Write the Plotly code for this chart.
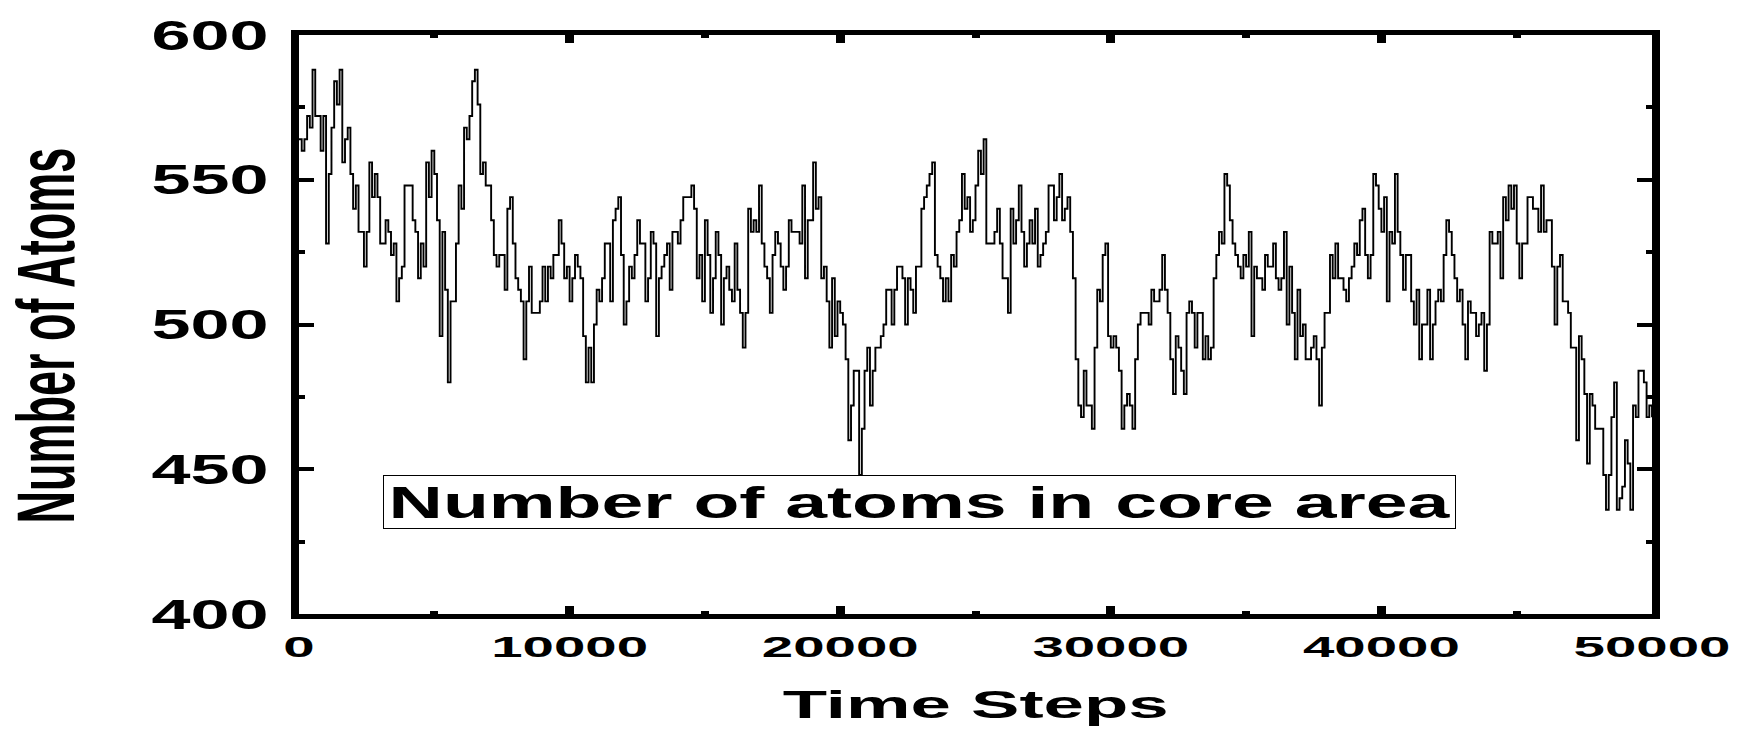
import plotly.graph_objects as go

# Simulation output: atoms counted in the core region, sampled every 100 steps
time_steps = list(range(0, 50001, 100))
atom_counts = [
    564, 560, 564, 572, 568, 588, 572, 572, 560, 572,   # 0
    528, 552, 568, 584, 576, 588, 556, 564, 568, 552,   # 1000
    540, 548, 532, 532, 520, 532, 556, 544, 552, 544,   # 2000
    528, 528, 536, 532, 524, 528, 508, 516, 520, 548,   # 3000
    548, 548, 536, 532, 516, 528, 520, 556, 544, 560,   # 4000
    552, 536, 496, 532, 512, 480, 508, 508, 528, 548,   # 5000
    540, 568, 564, 572, 584, 588, 576, 552, 556, 548,   # 6000
    548, 536, 524, 520, 524, 524, 512, 540, 544, 528,   # 7000
    516, 512, 508, 488, 508, 520, 504, 504, 504, 508,   # 8000
    520, 508, 520, 516, 524, 524, 536, 528, 516, 520,   # 9000
    508, 516, 524, 520, 516, 496, 480, 492, 480, 500,   # 10000
    512, 508, 516, 528, 528, 508, 536, 540, 544, 524,   # 11000
    500, 508, 520, 516, 524, 536, 528, 528, 508, 516,   # 12000
    532, 528, 496, 516, 520, 524, 528, 512, 532, 532,   # 13000
    528, 536, 544, 544, 544, 548, 540, 516, 524, 508,   # 14000
    536, 524, 504, 516, 532, 524, 500, 516, 520, 512,   # 15000
    508, 528, 512, 504, 492, 504, 540, 532, 536, 532,   # 16000
    548, 528, 520, 516, 504, 524, 532, 528, 520, 512,   # 17000
    520, 536, 532, 532, 532, 528, 548, 516, 536, 536,   # 18000
    556, 540, 544, 516, 520, 508, 492, 516, 496, 508,   # 19000
    504, 500, 488, 460, 472, 484, 484, 448, 464, 484,   # 20000
    492, 472, 484, 492, 492, 496, 500, 512, 512, 500,   # 21000
    512, 520, 520, 516, 500, 516, 512, 504, 520, 520,   # 22000
    540, 544, 548, 552, 556, 524, 520, 516, 508, 516,   # 23000
    508, 524, 520, 532, 536, 552, 540, 544, 532, 536,   # 24000
    548, 560, 552, 564, 528, 528, 528, 532, 540, 528,   # 25000
    516, 516, 504, 540, 528, 536, 548, 532, 520, 528,   # 26000
    536, 528, 540, 520, 524, 528, 532, 548, 548, 536,   # 27000
    544, 552, 536, 540, 544, 532, 516, 488, 472, 468,   # 28000
    484, 472, 472, 464, 492, 512, 508, 524, 528, 496,   # 29000
    492, 496, 492, 484, 464, 472, 476, 472, 464, 488,   # 30000
    500, 504, 504, 504, 500, 512, 508, 508, 512, 524,   # 31000
    512, 504, 488, 476, 496, 492, 484, 476, 504, 508,   # 32000
    504, 492, 504, 504, 488, 496, 488, 492, 516, 524,   # 33000
    532, 528, 552, 548, 536, 528, 524, 520, 516, 524,   # 34000
    520, 532, 496, 520, 516, 516, 512, 524, 520, 520,   # 35000
    528, 516, 512, 516, 532, 500, 520, 504, 488, 512,   # 36000
    496, 500, 488, 488, 492, 496, 488, 472, 492, 504,   # 37000
    504, 524, 516, 528, 516, 516, 512, 508, 516, 520,   # 38000
    528, 524, 536, 540, 524, 516, 524, 552, 548, 540,   # 39000
    532, 544, 508, 532, 528, 552, 532, 524, 512, 524,   # 40000
    524, 508, 500, 512, 488, 500, 500, 512, 488, 500,   # 41000
    508, 512, 508, 524, 536, 532, 524, 516, 508, 512,   # 42000
    500, 488, 508, 504, 504, 496, 500, 504, 484, 500,   # 43000
    532, 528, 528, 532, 516, 544, 536, 548, 540, 548,   # 44000
    528, 516, 528, 528, 544, 544, 540, 540, 532, 548,   # 45000
    532, 536, 536, 520, 500, 520, 524, 508, 508, 504,   # 46000
    492, 492, 460, 496, 488, 476, 452, 476, 472, 464,   # 47000
    464, 464, 448, 436, 448, 468, 480, 436, 440, 444,   # 48000
    460, 452, 436, 472, 468, 484, 484, 480, 468, 472,   # 49000
    468,                                                # 50000
]

x_ticks = [0, 10000, 20000, 30000, 40000, 50000]
y_ticks = [400, 450, 500, 550, 600]

FONT = "Liberation Sans, Arial, sans-serif"
Y_TITLE = "Number of Atoms"
X_TITLE = "Time Steps"
LABEL = "Number of atoms in core area"

fig = go.Figure()
fig.add_trace(go.Scatter(
    x=time_steps, y=atom_counts, mode="lines",
    line=dict(color="black", width=1.9, shape="hv"),
    showlegend=False,
))

fig.update_layout(
    width=1750, height=732,
    margin=dict(l=299, r=98, t=28, b=118, pad=0),
    paper_bgcolor="white", plot_bgcolor="white",
    xaxis=dict(
        range=[0, 50000], tickvals=x_ticks, ticktext=[str(v) for v in x_ticks],
        showgrid=False, zeroline=False,
        showline=True, linecolor="black", linewidth=5, mirror="ticks",
        ticks="inside", ticklen=8, tickwidth=9, tickcolor="black",
        minor=dict(dtick=5000, ticks="inside", ticklen=3, tickwidth=8, tickcolor="black"),
        tickfont=dict(family=FONT, size=30, color="black", weight="bold"),
        ticklabelstandoff=2,
    ),
    yaxis=dict(
        range=[400, 600], tickvals=y_ticks, ticktext=[str(v) for v in y_ticks],
        showgrid=False, zeroline=False,
        showline=True, linecolor="black", linewidth=8, mirror="ticks",
        ticks="inside", ticklen=15, tickwidth=4, tickcolor="black",
        minor=dict(dtick=25, ticks="inside", ticklen=6, tickwidth=4, tickcolor="black"),
        tickfont=dict(family=FONT, size=42, color="black", weight="bold"),
        ticklabelstandoff=14,
    ),
    annotations=[
        dict(
            text=LABEL, xref="x", yref="y", x=22930, y=438.6,
            xanchor="center", yanchor="middle", showarrow=False,
            width=1071, height=52, borderpad=0,
            bordercolor="black", borderwidth=1, bgcolor="white",
            font=dict(family=FONT, size=45, color="black", weight="bold"),
        ),
        dict(
            text=X_TITLE, xref="paper", yref="paper", x=0.5, y=-0.157,
            xanchor="center", yanchor="middle", showarrow=False,
            font=dict(family=FONT, size=39, color="black", weight="bold"),
        ),
        dict(
            text=Y_TITLE, xref="paper", yref="paper", x=-0.187, y=0.481,
            xanchor="center", yanchor="middle", showarrow=False, textangle=-90,
            font=dict(family=FONT, size=45, color="black", weight="bold"),
        ),
    ],
)

# Horizontally widened lettering: horizontal texts are stretched along their
# baseline, the rotated y title is stretched across it (whole group scaled in x)
post = """
var gd = document.getElementById('{plot_id}');
function widen(el, k) {
    var w = el.getComputedTextLength();
    el.setAttribute('textLength', w * k);
    el.setAttribute('lengthAdjust', 'spacingAndGlyphs');
}
gd.querySelectorAll('.xtick text').forEach(function (el) { widen(el, 1.88); });
gd.querySelectorAll('.ytick text').forEach(function (el) { widen(el, 1.67); });
gd.querySelectorAll('g.annotation').forEach(function (g) {
    var t = g.querySelector('.annotation-text');
    if (!t) { return; }
    if (t.textContent === '%s') {
        var svg = g.ownerSVGElement.getBoundingClientRect();
        var r = g.getBoundingClientRect();
        var cx = r.left + r.width / 2 - svg.left;
        var prev = g.getAttribute('transform') || '';
        g.setAttribute('transform', 'translate(' + cx + ',0) scale(1.8,1) translate(' + (-cx) + ',0) ' + prev);
    } else if (t.textContent === '%s') {
        widen(t, 1.86);
    } else {
        widen(t, 1.67);
    }
});
""" % (Y_TITLE, X_TITLE)

fig.write_html("out.html", post_script=post)
